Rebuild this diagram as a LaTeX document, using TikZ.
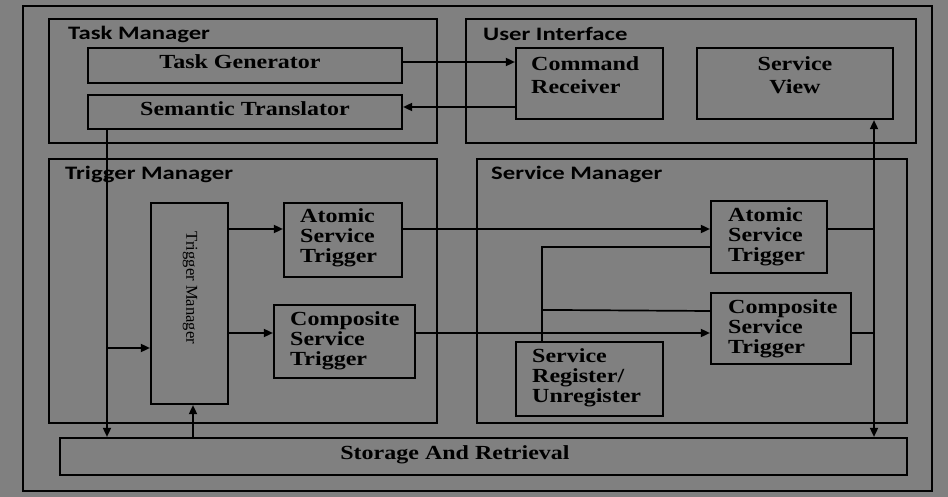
\documentclass[tikz,border=0pt]{standalone}
\usepackage{fontspec}
\setmainfont{Liberation Serif}[FakeStretch=1.2]
\newfontfamily\headfont{Carlito}[FakeStretch=1.3]
\newfontfamily\plainserif{Liberation Serif}
\usetikzlibrary{arrows.meta,calc}
\definecolor{bggray}{RGB}{128,128,128}

\begin{document}
\begin{tikzpicture}[x=1pt,y=-1pt,
  panel/.style={draw=black,line width=2.4pt,rectangle,inner sep=0pt},
  box/.style={draw=black,line width=2.2pt,rectangle,inner sep=0pt},
  head/.style={font=\headfont\bfseries\fontsize{19}{19}\selectfont,anchor=west,inner sep=0pt},
  btext/.style={font=\bfseries\fontsize{20}{20}\selectfont,inner sep=0pt,align=left},
  wire/.style={draw=black,line width=1.7pt},
  arr/.style={wire,-{Triangle[length=9pt,width=8pt]}},
  darr/.style={wire,{Triangle[length=9pt,width=8pt]}-{Triangle[length=9pt,width=8pt]}}
]
\fill[bggray] (0,0) rectangle (948,497);
\useasboundingbox (0,0) rectangle (948,497);

% outer frame and the four manager panels
\node[panel,line width=2.8pt,minimum width=909pt,minimum height=485pt] (outer) at (477.5,248.5) {};
\node[panel,minimum width=388pt,minimum height=124pt] (taskp) at (243,81) {};
\node[panel,minimum width=450pt,minimum height=124pt] (uip) at (691,81) {};
\node[panel,minimum width=388pt,minimum height=264pt] (trigp) at (243,291) {};
\node[panel,minimum width=430pt,minimum height=264pt] (servp) at (692,291) {};

\node[head] (taskp-h) at (68,34) {Task Manager};
\node[head] (uip-h) at (483,34) {User Interface};
\node[head] (trigp-h) at (65,174) {Trigger Manager};
\node[head] (servp-h) at (491,174) {Service Manager};

% component boxes
\node[box,minimum width=314pt,minimum height=35pt] (tg) at (245,65.5) {};
\node[box,minimum width=314pt,minimum height=34pt] (st) at (245,112) {};
\node[box,minimum width=147pt,minimum height=71pt] (cr) at (589.5,83.5) {};
\node[box,minimum width=196pt,minimum height=71pt] (sv) at (795,83.5) {};
\node[box,minimum width=77pt,minimum height=201pt] (tm) at (189.5,303.5) {};
\node[box,minimum width=118pt,minimum height=74pt] (astl) at (343,240) {};
\node[box,minimum width=141pt,minimum height=73pt] (cstl) at (344.5,341.5) {};
\node[box,minimum width=847pt,minimum height=37pt] (storage) at (483.5,456.5) {};
\node[box,minimum width=116pt,minimum height=72pt] (astr) at (769,237) {};
\node[box,minimum width=140pt,minimum height=71pt] (cstr) at (781,328.5) {};
\node[box,minimum width=147pt,minimum height=74pt] (sru) at (589.5,379) {};

% box labels
\node[btext] (tg-t) at (240,62) {Task Generator};
\node[btext] (st-t) at (245,109) {Semantic Translator};
\node[btext,anchor=west,font=\bfseries\fontsize{20}{23}\selectfont] (cr-t) at (531,75) {Command\\Receiver};
\node[btext,align=center,font=\bfseries\fontsize{20}{23}\selectfont] (sv-t) at (795,75) {Service\\View};
\node[font=\plainserif\fontsize{16.6}{16.6}\selectfont,rotate=-90,inner sep=0pt] (tm-t) at (190,288) {Trigger Manager};
\node[btext,anchor=west] (astl-t) at (300,238) {Atomic\\Service\\Trigger};
\node[btext,anchor=west] (cstl-t) at (290,341) {Composite\\Service\\Trigger};
\node[btext,anchor=west] (astr-t) at (728,237) {Atomic\\Service\\Trigger};
\node[btext,anchor=west] (cstr-t) at (728,329) {Composite\\Service\\Trigger};
\node[btext,anchor=west] (sru-t) at (532,378) {Service\\Register/\\Unregister};
\node[btext] (storage-t) at (455,455) {Storage And Retrieval};

% task manager <-> user interface
\draw[arr] ($(tg.east)+(0,-3.5)$) -- ($(tg.east -| cr.west)+(0,-3.5)$);
\draw[arr] ($(cr.west)+(0,23.5)$) -- ($(cr.west -| st.east)+(0,23.5)$);

% translator down to storage, with a branch into the trigger manager
\draw[arr] ($(st.south)+(-138,0)$) -- ($(st.south |- storage.north)+(-138,0)$);
\draw[arr] ($(st.south |- tm.west)+(-138,44.5)$) -- ($(tm.west)+(0,44.5)$);
\draw[arr] ($(tm.south |- storage.north)+(3.5,0)$) -- ($(tm.south)+(3.5,0)$);

% trigger manager to the triggers
\draw[arr] ($(tm.east |- astl.west)+(0,-11)$) -- ($(astl.west)+(0,-11)$);
\draw[arr] ($(tm.east |- cstl.west)+(0,-8.5)$) -- ($(cstl.west)+(0,-8.5)$);
\draw[arr] ($(astl.east)+(0,-11)$) -- ($(astl.east -| astr.west)+(0,-11)$);
\draw[arr] ($(cstl.east)+(0,-8.5)$) -- ($(cstl.east -| cstr.west)+(0,-8.5)$);

% register / unregister links
\draw[wire] ($(sru.north)+(-47.5,0)$) |- ($(astr.west)+(0,10)$);
\draw[wire] ($(sru.north)+(-47.5,-31)$) -- ($(cstr.west)+(0,-17.5)$);

% right-hand bus between service view and storage
\draw[darr] ($(sv.south)+(79,0)$) -- ($(sv.south |- storage.north)+(79,0)$);
\draw[wire] ($(astr.east)+(0,-8)$) -- ($(sv.south |- astr.east)+(79,-8)$);
\draw[wire] ($(cstr.east)+(0,4.5)$) -- ($(sv.south |- cstr.east)+(79,4.5)$);
\end{tikzpicture}
\end{document}
